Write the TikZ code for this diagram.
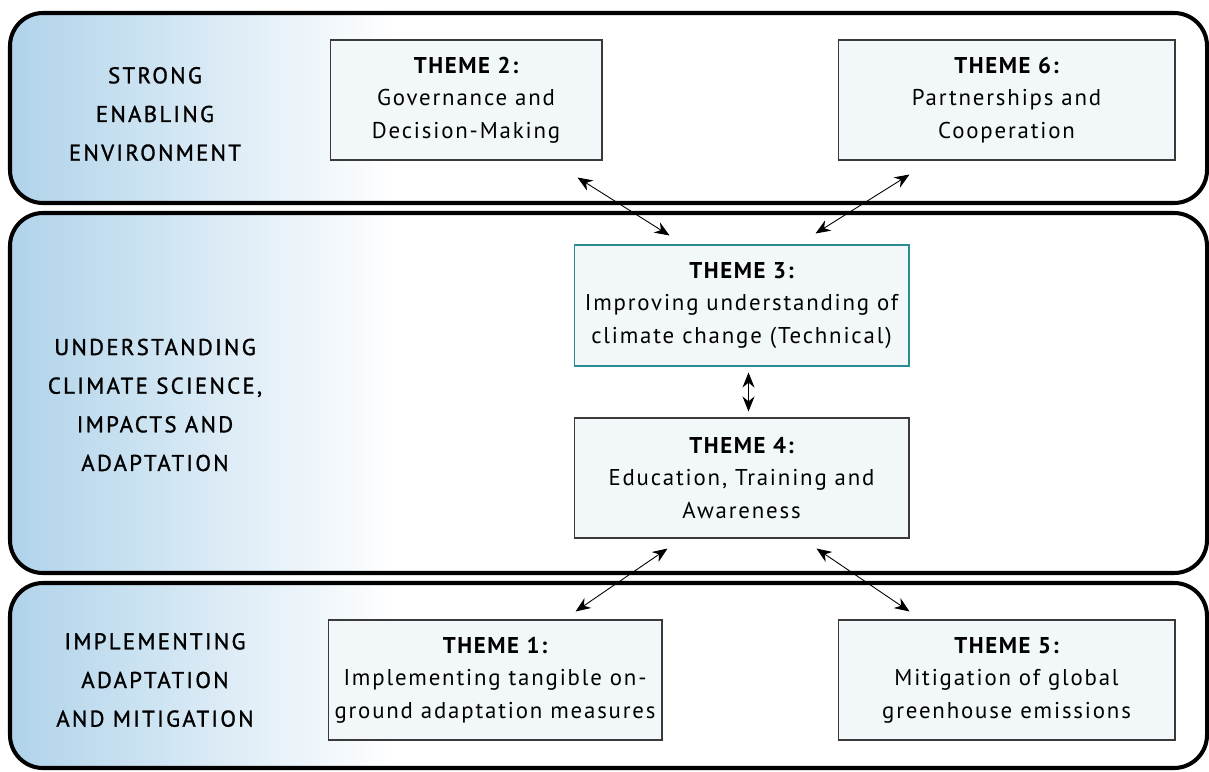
\documentclass[tikz,border=0pt]{standalone}
\usepackage{fontspec}
\setmainfont{PT Sans}
\usetikzlibrary{positioning}
\usetikzlibrary{calc}
\usetikzlibrary{arrows.meta}

\definecolor{bandblue}{HTML}{B0D3EA}
\definecolor{boxfill}{HTML}{F2F7FA}
\definecolor{boxline}{HTML}{3A3A3A}
\definecolor{tealline}{HTML}{2A8C92}

\newfontfamily\boxfont[LetterSpace=8]{PT Sans}
\newfontfamily\labelfont[LetterSpace=10,FakeBold=1.2]{PT Sans}

\tikzset{
  themebox/.style={draw=boxline, fill=boxfill, line width=0.6pt, inner sep=0pt,
    align=center, font=\fontsize{13}{18.5}\selectfont\boxfont},
  bandlabel/.style={align=center, font=\fontsize{13}{22}\selectfont\labelfont},
  link/.style={{Stealth[length=3mm,width=2.4mm]}-{Stealth[length=3mm,width=2.4mm]}, line width=0.5pt}
}

\newcommand{\theme}[1]{{\bfseries\addfontfeature{LetterSpace=7} THEME #1:}}

\begin{document}
\begin{tikzpicture}[x=0.02cm,y=-0.02cm]
\useasboundingbox (0,0) rectangle (1209,771);

% bands
\foreach \top/\bot in {13/203, 213/573, 583/768}{
  \fill[white, rounded corners=0.66cm] (10,\top) rectangle (1207,\bot);
  \begin{scope}
    \clip[rounded corners=0.66cm] (10,\top) rectangle (1207,\bot);
    \shade[left color=bandblue, right color=white] (10,\top) rectangle (395,\bot);
  \end{scope}
  \draw[line width=2.3pt, rounded corners=0.66cm] (10,\top) rectangle (1207,\bot);
}

\node[bandlabel] (enabling) at (155,114) {STRONG\\ENABLING\\ENVIRONMENT};
\node[bandlabel] (science) at (155,405) {UNDERSTANDING\\CLIMATE SCIENCE,\\IMPACTS AND\\ADAPTATION};
\node[bandlabel] (implement) at (155,680) {IMPLEMENTING\\ADAPTATION\\AND MITIGATION};

% themes
\node[themebox, minimum width=5.44cm, minimum height=2.4cm] (t2) at (466,100)
  {\theme{2}\\Governance and\\Decision-Making};
\node[themebox, minimum width=6.74cm, minimum height=2.4cm] (t6) at (1006.5,100)
  {\theme{6}\\Partnerships and\\Cooperation};
\node[themebox, draw=tealline, minimum width=6.7cm, minimum height=2.42cm] (t3) at (741.5,305.5)
  {\theme{3}\\Improving understanding of\\climate change (Technical)};
\node[themebox, minimum width=6.7cm, minimum height=2.4cm] (t4) at (741.5,478)
  {\theme{4}\\Education, Training and\\Awareness};
\node[themebox, minimum width=6.68cm, minimum height=2.4cm] (t1) at (495,680)
  {\theme{1}\\Implementing tangible on-\\ground adaptation measures};
\node[themebox, minimum width=6.74cm, minimum height=2.4cm] (t5) at (1006.5,680)
  {\theme{5}\\Mitigation of global\\greenhouse emissions};

% links
\draw[link] ($(t2.south east)+(-25,17)$) -- ($(t3.north west)+(96,-9)$);
\draw[link] ($(t6.south west)+(72,14)$) -- ($(t3.north east)+(-94,-11)$);
\draw[link] ($(t3.south)+(7,6)$) -- ($(t4.north)+(7,-6)$);
\draw[link] ($(t4.south west)+(94,10)$) -- ($(t1.north east)+(-87,-8)$);
\draw[link] ($(t4.south east)+(-93,10)$) -- ($(t5.north west)+(72,-8)$);
\end{tikzpicture}
\end{document}
